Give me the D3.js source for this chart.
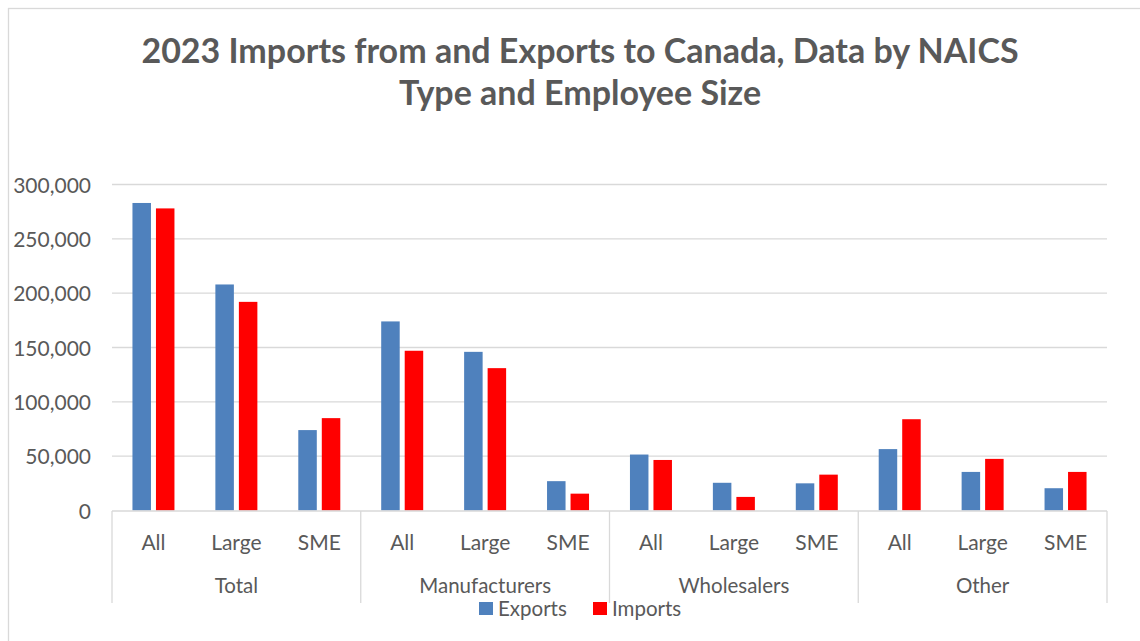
<!DOCTYPE html>
<html>
<head>
<meta charset="utf-8">
<script src="https://cdn.jsdelivr.net/npm/d3@7"></script>
<style>
  html, body { margin: 0; padding: 0; background: #fff; }
  svg { display: block; }
  text { font-family: Lato, "Open Sans", sans-serif; fill: #595959; }
</style>
</head>
<body>
<svg id="chart" width="1140" height="641"></svg>
<script>
// ---- data ----
const groups = ["Total", "Manufacturers", "Wholesalers", "Other"];
const sizes = ["All", "Large", "SME"];
const series = ["Exports", "Imports"];
const exportsValues = [283000, 208000, 74000, 174000, 146000, 27000, 51500, 25500, 25000, 56500, 35500, 20500];
const importsValues = [278000, 192000, 85000, 147000, 131000, 15500, 46500, 12500, 33000, 84000, 47500, 35500];
const yTicks = [0, 50000, 100000, 150000, 200000, 250000, 300000];
const titleLines = ["2023 Imports from and Exports to Canada, Data by NAICS", "Type and Employee Size"];
const colors = { Exports: "#4F81BD", Imports: "#FF0000" };

const categories = [];
groups.forEach(g => sizes.forEach(s => categories.push({ group: g, size: s, key: g + "|" + s })));
const rows = categories.map((c, i) => ({ ...c, Exports: exportsValues[i], Imports: importsValues[i] }));

const svg = d3.select("#chart");
const grid = "#D9D9D9";

// outer chart border (left & top visible)
svg.append("rect").attr("x", 8.5).attr("y", 8.5).attr("width", 1140).attr("height", 640)
  .attr("fill", "none").attr("stroke", grid).attr("stroke-width", 1.3);

// title
const tl = svg.append("g").selectAll("text").data(titleLines).join("text")
  .attr("x", 580).attr("y", (d, i) => i === 0 ? 63 : 105)
  .attr("text-anchor", "middle")
  .style("font-weight", "700").style("font-size", "31px").style("fill", "#595959")
  .text(d => d);
const w0 = tl.node().getComputedTextLength();
const fs = 31 * 886 / w0;
tl.style("font-size", Math.min(fs, 34) + "px");

// scales
const x0 = d3.scaleBand().domain(categories.map(c => c.key)).range([112, 1107]).paddingInner(0).paddingOuter(0);
const bw = x0.bandwidth();
const x1 = d3.scaleBand().domain(series).range([bw / 2 - 21, bw / 2 + 21]).paddingInner(5 / 23.5).paddingOuter(0);
const y = d3.scaleLinear().domain([0, 300000]).range([510.5, 184.5]);

// gridlines
svg.append("g").selectAll("line").data(yTicks.filter(t => t > 0)).join("line")
  .attr("x1", 112).attr("x2", 1107)
  .attr("y1", d => y(d)).attr("y2", d => y(d))
  .attr("stroke", grid).attr("stroke-width", 1.3);

// y axis labels
const yAxis = d3.axisLeft(y).tickValues(yTicks).tickSize(0).tickPadding(0)
  .tickFormat(d3.format(","));
const ya = svg.append("g").attr("transform", "translate(91,0)").call(yAxis);
ya.select(".domain").remove();
ya.selectAll("text").style("font-size", "21px").style("fill", "#595959")
  .style("font-family", "Lato, 'Open Sans', sans-serif").attr("dy", "0.36em");

// bars
const catG = svg.append("g").selectAll("g").data(rows).join("g")
  .attr("transform", d => `translate(${x0(d.key)},0)`);
catG.selectAll("rect").data(d => series.map(s => ({ s, v: d[s] }))).join("rect")
  .attr("x", d => x1(d.s)).attr("width", x1.bandwidth())
  .attr("y", d => y(d.v)).attr("height", d => y(0) - y(d.v))
  .attr("fill", d => colors[d.s]);

// x axis line
svg.append("line").attr("x1", 112).attr("x2", 1107).attr("y1", 511).attr("y2", 511)
  .attr("stroke", grid).attr("stroke-width", 1.3);

// group separators
const groupBounds = groups.map((g, i) => x0(g + "|" + sizes[0]));
groupBounds.push(x0.range()[1]);
svg.append("g").selectAll("line").data(groupBounds).join("line")
  .attr("x1", d => d).attr("x2", d => d).attr("y1", 511).attr("y2", 603)
  .attr("stroke", grid).attr("stroke-width", 1.3);

// category labels
svg.append("g").selectAll("text").data(categories).join("text")
  .attr("x", d => x0(d.key) + bw / 2).attr("y", 542).attr("dy", "0.36em")
  .attr("text-anchor", "middle").style("font-size", "21px")
  .text(d => d.size);

// group labels
svg.append("g").selectAll("text").data(groups).join("text")
  .attr("x", (d, i) => (groupBounds[i] + groupBounds[i + 1]) / 2).attr("y", 585.5).attr("dy", "0.36em")
  .attr("text-anchor", "middle").style("font-size", "20.5px")
  .text(d => d);

// legend
const legendX = { Exports: 479, Imports: 593 };
const lg = svg.append("g").selectAll("g").data(series).join("g")
  .attr("transform", d => `translate(${legendX[d]},0)`);
lg.append("rect").attr("x", 0).attr("y", 602).attr("width", 14).attr("height", 13)
  .attr("fill", d => colors[d]);
lg.append("text").attr("x", 19).attr("y", 608.5).attr("dy", "0.36em")
  .style("font-size", "20.5px").text(d => d);
</script>
</body>
</html>
